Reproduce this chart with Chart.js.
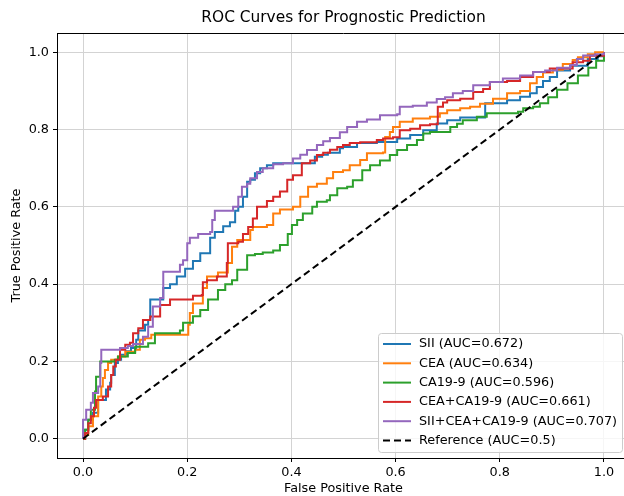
<!DOCTYPE html>
<html>
<head>
<meta charset="utf-8">
<script src="https://cdn.jsdelivr.net/npm/chart.js@4.4.0/dist/chart.umd.min.js"></script>
<style>
  html, body { margin: 0; padding: 0; background: #fff; overflow: hidden; }
  #wrap { width: 624px; height: 496px; overflow: hidden; }
  canvas { display: block; }
</style>
</head>
<body>
<div id="wrap"><canvas id="roc" width="640" height="496"></canvas></div>
<script>
// values
const chartTitle = 'ROC Curves for Prognostic Prediction';
const tickValues = [0.0, 0.2, 0.4, 0.6, 0.8, 1.0];

const siiFpr = [0, 0.004, 0.010, 0.019, 0.029, 0.044, 0.052, 0.054, 0.061, 0.067, 0.073, 0.083, 0.092, 0.102, 0.106, 0.119, 0.125,
  0.129, 0.154, 0.167, 0.180, 0.196, 0.211, 0.225, 0.244, 0.253, 0.269, 0.282, 0.292, 0.298, 0.307, 0.315, 0.321, 0.330, 0.340,
  0.353, 0.365, 0.441, 0.445, 0.459, 0.470, 0.493, 0.499, 0.526, 0.564, 0.603, 0.628, 0.653, 0.679, 0.699, 0.724, 0.768, 0.772,
  0.814, 0.839, 0.858, 0.871, 0.883, 0.896, 0.910, 0.935, 0.969, 0.988, 1.0];
const siiTpr = [0, 0.023, 0.049, 0.067, 0.100, 0.127, 0.145, 0.165, 0.196, 0.204, 0.217, 0.226, 0.235, 0.256, 0.280, 0.295, 0.307,
  0.360, 0.390, 0.400, 0.420, 0.440, 0.460, 0.480, 0.520, 0.535, 0.550, 0.560, 0.590, 0.600, 0.626, 0.665, 0.670, 0.687, 0.700,
  0.708, 0.713, 0.713, 0.730, 0.735, 0.740, 0.752, 0.755, 0.765, 0.768, 0.777, 0.786, 0.798, 0.816, 0.824, 0.831, 0.831, 0.868,
  0.876, 0.885, 0.894, 0.910, 0.926, 0.936, 0.953, 0.965, 0.983, 0.990, 1.0];

const ceaFpr = [0, 0.004, 0.010, 0.019, 0.029, 0.035, 0.038, 0.042, 0.048, 0.054, 0.067, 0.081, 0.100, 0.109, 0.119, 0.131, 0.190,
  0.202, 0.205, 0.211, 0.230, 0.238, 0.259, 0.278, 0.286, 0.296, 0.321, 0.326, 0.353, 0.365, 0.378, 0.403, 0.417, 0.432, 0.449,
  0.468, 0.480, 0.499, 0.512, 0.532, 0.545, 0.576, 0.580, 0.589, 0.595, 0.608, 0.633, 0.666, 0.685, 0.699, 0.724, 0.743, 0.762,
  0.787, 0.814, 0.839, 0.858, 0.871, 0.883, 0.902, 0.921, 0.940, 0.950, 0.969, 0.983, 1.0];
const ceaTpr = [0, 0.010, 0.032, 0.058, 0.109, 0.135, 0.157, 0.178, 0.196, 0.204, 0.213, 0.225, 0.230, 0.256, 0.260, 0.269, 0.269,
  0.295, 0.325, 0.350, 0.390, 0.420, 0.430, 0.455, 0.497, 0.514, 0.540, 0.548, 0.553, 0.583, 0.593, 0.600, 0.626, 0.652, 0.660,
  0.674, 0.690, 0.695, 0.708, 0.721, 0.739, 0.741, 0.781, 0.794, 0.807, 0.820, 0.829, 0.833, 0.842, 0.850, 0.855, 0.859, 0.867,
  0.880, 0.894, 0.900, 0.920, 0.936, 0.948, 0.955, 0.970, 0.980, 0.987, 0.995, 1.0, 1.0];

const ca199Fpr = [0, 0.004, 0.010, 0.015, 0.023, 0.025, 0.033, 0.052, 0.061, 0.067, 0.086, 0.100, 0.125, 0.138, 0.186, 0.192,
  0.211, 0.225, 0.240, 0.259, 0.273, 0.286, 0.296, 0.315, 0.330, 0.345, 0.365, 0.378, 0.393, 0.401, 0.411, 0.422, 0.440, 0.449,
  0.468, 0.474, 0.488, 0.507, 0.518, 0.536, 0.551, 0.570, 0.589, 0.603, 0.622, 0.641, 0.653, 0.666, 0.685, 0.705, 0.718, 0.729,
  0.756, 0.775, 0.835, 0.845, 0.864, 0.877, 0.893, 0.910, 0.930, 0.950, 0.970, 0.985, 1.0];
const ca199Tpr = [0, 0.023, 0.049, 0.075, 0.122, 0.160, 0.200, 0.200, 0.204, 0.213, 0.222, 0.238, 0.247, 0.273, 0.280, 0.300,
  0.317, 0.333, 0.360, 0.385, 0.400, 0.410, 0.437, 0.475, 0.478, 0.482, 0.487, 0.501, 0.530, 0.553, 0.566, 0.583, 0.600, 0.613,
  0.617, 0.630, 0.648, 0.652, 0.669, 0.695, 0.708, 0.720, 0.734, 0.747, 0.760, 0.773, 0.790, 0.794, 0.794, 0.807, 0.815, 0.824,
  0.833, 0.842, 0.846, 0.855, 0.859, 0.868, 0.884, 0.903, 0.920, 0.940, 0.960, 0.978, 1.0];

const ceaCa199Fpr = [0, 0.004, 0.010, 0.015, 0.021, 0.025, 0.038, 0.048, 0.054, 0.058, 0.063, 0.071, 0.081, 0.090, 0.096, 0.106,
  0.115, 0.129, 0.148, 0.167, 0.211, 0.228, 0.230, 0.238, 0.257, 0.276, 0.278, 0.298, 0.307, 0.317, 0.326, 0.334, 0.353, 0.365,
  0.378, 0.392, 0.403, 0.420, 0.436, 0.449, 0.461, 0.474, 0.488, 0.499, 0.512, 0.532, 0.564, 0.576, 0.595, 0.608, 0.628, 0.647,
  0.666, 0.681, 0.691, 0.699, 0.724, 0.749, 0.768, 0.781, 0.814, 0.839, 0.864, 0.896, 0.940, 0.960, 0.973, 1.0];
const ceaCa199Tpr = [0, 0.015, 0.040, 0.058, 0.080, 0.100, 0.109, 0.135, 0.165, 0.187, 0.204, 0.230, 0.243, 0.248, 0.273, 0.286,
  0.307, 0.316, 0.346, 0.360, 0.370, 0.372, 0.405, 0.410, 0.420, 0.455, 0.506, 0.510, 0.530, 0.548, 0.570, 0.600, 0.615, 0.626,
  0.640, 0.670, 0.682, 0.713, 0.720, 0.734, 0.740, 0.748, 0.755, 0.760, 0.765, 0.767, 0.773, 0.777, 0.780, 0.798, 0.802, 0.811,
  0.814, 0.859, 0.870, 0.876, 0.880, 0.897, 0.905, 0.923, 0.926, 0.936, 0.949, 0.958, 0.974, 0.978, 0.991, 1.0];

const combinedFpr = [0, 0.000, 0.006, 0.015, 0.019, 0.029, 0.033, 0.035, 0.067, 0.071, 0.086, 0.096, 0.115, 0.125, 0.134, 0.148,
  0.154, 0.177, 0.186, 0.192, 0.200, 0.205, 0.221, 0.244, 0.248, 0.253, 0.288, 0.298, 0.305, 0.315, 0.321, 0.334, 0.345, 0.365,
  0.384, 0.403, 0.417, 0.430, 0.449, 0.461, 0.474, 0.493, 0.507, 0.526, 0.545, 0.570, 0.603, 0.608, 0.633, 0.660, 0.679, 0.695,
  0.710, 0.729, 0.749, 0.781, 0.806, 0.839, 0.864, 0.887, 0.910, 0.935, 0.948, 0.960, 0.983, 1.0];
const combinedTpr = [0, 0.049, 0.075, 0.093, 0.118, 0.135, 0.196, 0.230, 0.230, 0.235, 0.240, 0.245, 0.264, 0.290, 0.342, 0.364,
  0.432, 0.432, 0.450, 0.462, 0.506, 0.520, 0.530, 0.535, 0.566, 0.590, 0.600, 0.626, 0.652, 0.660, 0.674, 0.690, 0.700, 0.710,
  0.713, 0.725, 0.735, 0.747, 0.760, 0.770, 0.778, 0.793, 0.807, 0.820, 0.826, 0.837, 0.840, 0.859, 0.862, 0.870, 0.879, 0.884,
  0.894, 0.900, 0.915, 0.923, 0.932, 0.940, 0.949, 0.953, 0.960, 0.967, 0.983, 0.992, 0.995, 1.0];

const refFpr = [0, 1];
const refTpr = [0, 1];

const seriesLabels = ['SII (AUC=0.672)', 'CEA (AUC=0.634)', 'CA19-9 (AUC=0.596)',
  'CEA+CA19-9 (AUC=0.661)', 'SII+CEA+CA19-9 (AUC=0.707)', 'Reference (AUC=0.5)'];
const seriesColors = ['#1f77b4', '#ff7f0e', '#2ca02c', '#d62728', '#9467bd', '#000000'];

const toPoints = (xs, ys) => xs.map((x, i) => ({ x: x, y: ys[i] }));

const curves = [
  toPoints(siiFpr, siiTpr),
  toPoints(ceaFpr, ceaTpr),
  toPoints(ca199Fpr, ca199Tpr),
  toPoints(ceaCa199Fpr, ceaCa199Tpr),
  toPoints(combinedFpr, combinedTpr),
  toPoints(refFpr, refTpr)
];

const datasets = curves.map((pts, i) => {
  const isRef = i === curves.length - 1;
  return {
    label: seriesLabels[i],
    data: pts,
    borderColor: seriesColors[i],
    backgroundColor: seriesColors[i],
    borderWidth: 2,
    borderDash: isRef ? [7, 4] : [],
    pointRadius: 0,
    fill: false,
    stepped: isRef ? false : 'before',
    tension: 0
  };
});
// matplotlib draws the later lines on top
datasets.forEach((d, i) => { d.order = datasets.length - i; });

// title over the plot area, top spine, legend box in the lower right corner
const framePlugin = {
  id: 'frame',
  afterDraw(chart) {
    const { ctx, chartArea } = chart;
    ctx.save();
    ctx.fillStyle = '#000';
    ctx.font = '15.4px "DejaVu Sans"';
    ctx.textAlign = 'center';
    ctx.textBaseline = 'middle';
    ctx.fillText(chartTitle, (chartArea.left + chartArea.right) / 2, 18);

    ctx.strokeStyle = '#000';
    ctx.lineWidth = 1;
    ctx.beginPath();
    ctx.moveTo(chartArea.left, chartArea.top + 0.5);
    ctx.lineTo(chartArea.right, chartArea.top + 0.5);
    ctx.stroke();

    const rowH = 19.3;
    const w = 244, h = 119;
    const x0 = chartArea.right - 8 - w;
    const y0 = chartArea.bottom - 6 - h;
    ctx.fillStyle = 'rgba(255,255,255,0.8)';
    ctx.strokeStyle = '#cccccc';
    ctx.beginPath();
    ctx.roundRect(x0 + 0.5, y0 + 0.5, w, h, 3);
    ctx.fill();
    ctx.stroke();

    ctx.font = '12.8px "DejaVu Sans"';
    ctx.textAlign = 'left';
    ctx.textBaseline = 'middle';
    ctx.fillStyle = '#000';
    chart.data.datasets.forEach((d, i) => {
      const cy = y0 + 11 + i * rowH;
      ctx.beginPath();
      ctx.strokeStyle = d.borderColor;
      ctx.lineWidth = 2;
      ctx.setLineDash(d.borderDash);
      ctx.moveTo(x0 + 5, cy);
      ctx.lineTo(x0 + 33, cy);
      ctx.stroke();
      ctx.setLineDash([]);
      ctx.fillText(d.label, x0 + 41, cy);
    });
    ctx.restore();
  }
};

Chart.defaults.font.family = '"DejaVu Sans"';
Chart.defaults.color = '#000';

const axisCommon = {
  type: 'linear',
  min: -0.05,
  max: 1.05,
  afterBuildTicks: (axis) => { axis.ticks = tickValues.map(v => ({ value: v })); },
  grid: { color: '#d3d3d3', lineWidth: 1, tickColor: '#000', tickLength: 4 },
  border: { display: true, color: '#000', width: 1 }
};

new Chart(document.getElementById('roc'), {
  type: 'line',
  data: { datasets: datasets },
  options: {
    responsive: false,
    animation: false,
    devicePixelRatio: 1,
    layout: { padding: { left: 0, right: 10, top: 33, bottom: 0 } },
    plugins: {
      legend: { display: false },
      tooltip: { enabled: false },
      title: { display: false }
    },
    scales: {
      x: Object.assign({}, axisCommon, {
        position: 'bottom',
        ticks: { font: { size: 12.8 }, padding: 3, maxRotation: 0, callback: v => v.toFixed(1) },
        title: { display: true, text: 'False Positive Rate', font: { size: 12.8 }, padding: { top: 0, bottom: 0 } },
        afterFit: (scale) => { scale.height = 38; }
      }),
      y: Object.assign({}, axisCommon, {
        position: 'left',
        ticks: { font: { size: 12.8 }, padding: 4, callback: v => v.toFixed(1) },
        title: { display: true, text: 'True Positive Rate', font: { size: 12.8 }, padding: { top: 9, bottom: 0 } },
        afterFit: (scale) => { scale.width = 57; }
      })
    }
  },
  plugins: [framePlugin]
});
</script>
</body>
</html>
